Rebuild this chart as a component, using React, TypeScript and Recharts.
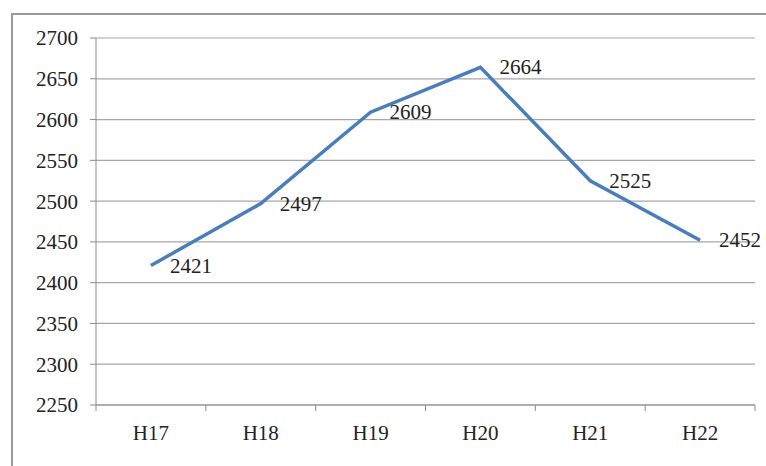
import { LineChart, Line, XAxis, YAxis, CartesianGrid, LabelList } from "recharts";

const categories = ["H17", "H18", "H19", "H20", "H21", "H22"];
const values = [2421, 2497, 2609, 2664, 2525, 2452];
const yTicks = [2250, 2300, 2350, 2400, 2450, 2500, 2550, 2600, 2650, 2700];
const xBounds = [0, 1, 2, 3, 4, 5, 6];

const W = 766;
const H = 466;
const M = { top: 38, right: 11, bottom: 21, left: 10 };
const Y_W = 86;
const X_H = 40;
const plotW = W - M.left - M.right - Y_W;
const band = plotW / categories.length;

const FONT = "'Liberation Serif', 'DejaVu Serif', serif";
const AXIS = "#8c8c8c";

const data = categories.map((c, i) => ({ pos: i + 0.5, name: c, value: values[i] }));

function XTick(props: any) {
  const { x, y, payload } = props;
  const i = payload.value;
  if (i >= categories.length) return null;
  return (
    <text
      x={x + band / 2}
      y={y + 27}
      textAnchor="middle"
      fontFamily={FONT}
      fontSize={21}
      fill="#222"
    >
      {categories[i]}
    </text>
  );
}

function ValueLabel(props: any) {
  const { x, y, value } = props;
  return (
    <text x={x + 19} y={y} dy={7} fontFamily={FONT} fontSize={21} fill="#222">
      {value}
    </text>
  );
}

export default function App() {
  return (
    <div style={{ position: "fixed", left: 0, top: 0, width: W, height: H, background: "#fff", overflow: "hidden" }}>
      <div
        style={{
          position: "absolute",
          left: 11,
          top: 13,
          width: W,
          height: H,
          borderLeft: "2px solid #9a9a9a",
          borderTop: "2px solid #9a9a9a",
        }}
      />
      <div style={{ position: "absolute", left: 0, top: 0 }}>
        <LineChart width={W} height={H} data={data} margin={M}>
          <CartesianGrid vertical={false} stroke="#a6a6a6" strokeWidth={1.2} />
          <XAxis
            dataKey="pos"
            type="number"
            domain={[0, 6]}
            ticks={xBounds}
            interval={0}
            height={X_H}
            stroke={AXIS}
            tickSize={6}
            tick={<XTick />}
          />
          <YAxis
            domain={[2250, 2700]}
            ticks={yTicks}
            interval={0}
            width={Y_W}
            stroke={AXIS}
            tickSize={6}
            tickMargin={12}
            tick={{ fontFamily: FONT, fontSize: 21, fill: "#222" }}
          />
          <Line
            dataKey="value"
            stroke="#4a7ebb"
            strokeWidth={3.5}
            dot={false}
            isAnimationActive={false}
          >
            <LabelList dataKey="value" content={<ValueLabel />} />
          </Line>
        </LineChart>
      </div>
    </div>
  );
}
